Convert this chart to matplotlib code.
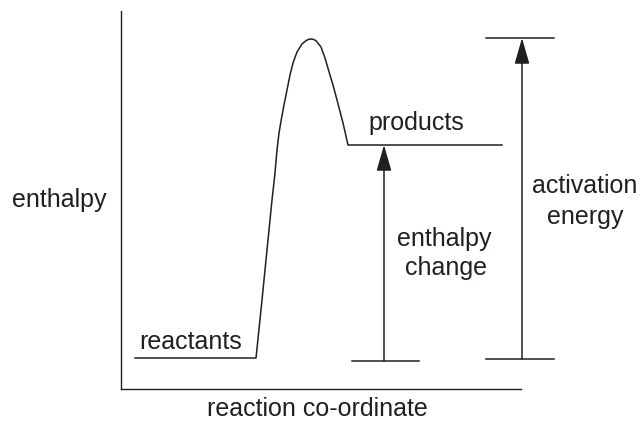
import matplotlib.pyplot as plt

# energy profile (x = reaction co-ordinate, y = enthalpy)
curve_x = [14, 135, 141, 146, 148.5, 151, 153.8, 156, 158, 160.2, 163, 166, 169, 172, 176, 181, 185, 187.5, 190,
	192.5, 195, 200, 204, 207.5, 212, 216, 222, 227, 381]
curve_y = [31, 31, 89, 139, 164, 189, 214, 239, 256, 269, 284, 299, 314, 326, 337, 345, 348.3, 349.6, 350,
	349.6, 348.3, 342, 331, 319, 304, 289, 266, 244, 244]

# level bars and arrows
dh_x, dh_bar = 263, [231, 298]
dh_from, dh_to = 28, 244
ea_x, ea_bar = 401, [365, 433]
ea_from, ea_to = 30, 351

ink = '#231f20'
plt.rcParams['font.family'] = ['Liberation Sans', 'DejaVu Sans']

fig = plt.figure(figsize=(6.44, 4.21), dpi=100)
ax = fig.add_axes([121/644, 32/421, 400/644, 378/421])
ax.set_xlim(0, 400)
ax.set_ylim(0, 378)
for s in ['top', 'right']:
	ax.spines[s].set_visible(False)
for s in ['left', 'bottom']:
	ax.spines[s].set_color(ink)
	ax.spines[s].set_linewidth(1.0)
ax.set_xticks([])
ax.set_yticks([])

ax.plot(curve_x, curve_y, color=ink, lw=1.1, clip_on=False, solid_joinstyle='round')

# enthalpy change arrow
ax.plot(dh_bar, [dh_from, dh_from], color=ink, lw=1.1, clip_on=False)
ax.annotate('', xy=(dh_x, dh_to), xytext=(dh_x, dh_from), annotation_clip=False,
	arrowprops=dict(arrowstyle='-|>,head_length=0.8,head_width=0.23', mutation_scale=20,
	color=ink, lw=1.1, shrinkA=0, shrinkB=0))

# activation energy arrow
ax.plot(ea_bar, [ea_from, ea_from], color=ink, lw=1.1, clip_on=False)
ax.plot(ea_bar, [ea_to, ea_to], color=ink, lw=1.1, clip_on=False)
ax.annotate('', xy=(ea_x, ea_to), xytext=(ea_x, ea_from), annotation_clip=False,
	arrowprops=dict(arrowstyle='-|>,head_length=0.8,head_width=0.23', mutation_scale=20,
	color=ink, lw=1.1, shrinkA=0, shrinkB=0))

fs = 18
kw = dict(fontsize=fs, color=ink, ha='center', va='baseline', clip_on=False)
ax.text(70, 40, 'reactants', **kw)
ax.text(295, 259, 'products', **kw)
ax.text(323, 143, 'enthalpy', **kw)
ax.text(325, 114, 'change', **kw)
ax.text(464, 196, 'activation', **kw)
ax.text(464, 165, 'energy', **kw)
ax.text(-62, 182, 'enthalpy', **kw)
ax.text(196, -27, 'reaction co-ordinate', **kw)

fig.savefig('out.png', dpi=100)
